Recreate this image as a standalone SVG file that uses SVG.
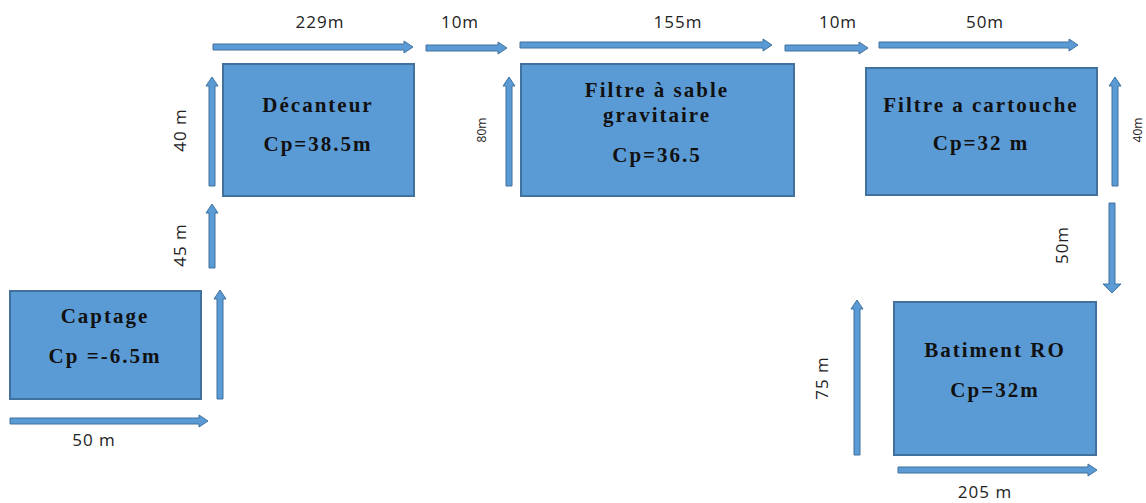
<svg xmlns="http://www.w3.org/2000/svg" width="1146" height="503" viewBox="0 0 1146 503">
<style>
.box{fill:#5B9BD5;stroke:#41719C;stroke-width:2}
.arr{fill:#5B9BD5;stroke:#41719C;stroke-width:1}
.t{font-family:"Liberation Serif","Times New Roman",serif;font-weight:bold;font-size:21px;letter-spacing:2px;fill:#111;text-anchor:middle}
.l{font-family:"Open Sans","Liberation Sans",sans-serif;font-size:17px;letter-spacing:1px;fill:#222;text-anchor:middle}
.s{font-family:"Open Sans","Liberation Sans",sans-serif;font-size:12px;fill:#222;text-anchor:middle}
</style>
<rect width="1146" height="503" fill="#fff"/>
<g id="captage">
<rect class="box" x="10" y="291" width="191" height="108"/>
<text class="t" x="105" y="323">Captage</text>
<text class="t" x="105" y="363">Cp =-6.5m</text>
</g>
<g id="decanteur">
<rect class="box" x="223" y="64" width="191" height="132"/>
<text class="t" x="318" y="112">Décanteur</text>
<text class="t" x="318" y="151">Cp=38.5m</text>
</g>
<g id="filtre-sable">
<rect class="box" x="521" y="64" width="273" height="132"/>
<text class="t" x="657" y="97">Filtre à sable</text>
<text class="t" x="657" y="122">gravitaire</text>
<text class="t" x="657" y="162">Cp=36.5</text>
</g>
<g id="filtre-cartouche">
<rect class="box" x="866" y="68" width="231" height="127"/>
<text class="t" x="981" y="112">Filtre a cartouche</text>
<text class="t" x="981" y="150">Cp=32 m</text>
</g>
<g id="batiment-ro">
<rect class="box" x="894" y="302" width="202" height="153"/>
<text class="t" x="995" y="357">Batiment RO</text>
<text class="t" x="995" y="397">Cp=32m</text>
</g>
<g id="connectors">
<polygon class="arr" points="10,418 199,418 199,415 208,421 199,427 199,424 10,424"/>
<polygon class="arr" points="217,399 217,299 214,299 220,290 226,299 223,299 223,399"/>
<polygon class="arr" points="209,268 209,213 206,213 212,204 218,213 215,213 215,268"/>
<polygon class="arr" points="209,186 209,86 206,86 212,77 218,86 215,86 215,186"/>
<polygon class="arr" points="213,44 404,44 404,41 413,47 404,53 404,50 213,50"/>
<polygon class="arr" points="426,45 498,45 498,42 507,48 498,54 498,51 426,51"/>
<polygon class="arr" points="520,42 763,42 763,39 772,45 763,51 763,48 520,48"/>
<polygon class="arr" points="785,45 859,45 859,42 868,48 859,54 859,51 785,51"/>
<polygon class="arr" points="879,42 1069,42 1069,39 1078,45 1069,51 1069,48 879,48"/>
<polygon class="arr" points="506,186 506,86 503,86 509,77 515,86 512,86 512,186"/>
<polygon class="arr" points="1112,186 1112,86 1109,86 1115,77 1121,86 1118,86 1118,186"/>
<polygon class="arr" points="1109,203 1115,203 1115,284 1121,284 1112,293 1103,284 1109,284"/>
<polygon class="arr" points="854,455 854,309 851,309 857,300 863,309 860,309 860,455"/>
<polygon class="arr" points="898,467 1088,467 1088,464 1097,470 1088,476 1088,473 898,473"/>
</g>
<g id="labels">
<text class="l" x="94" y="446">50 m</text>
<text class="l" x="320" y="28">229m</text>
<text class="l" x="460" y="28">10m</text>
<text class="l" x="678" y="28">155m</text>
<text class="l" x="838" y="28">10m</text>
<text class="l" x="985" y="28">50m</text>
<text class="l" x="985" y="498">205 m</text>
<text class="l" transform="translate(186,130) rotate(-90)">40 m</text>
<text class="l" transform="translate(186,245) rotate(-90)">45 m</text>
<text class="s" transform="translate(486,130) rotate(-90)">80m</text>
<text class="s" transform="translate(1142,130) rotate(-90)">40m</text>
<text class="l" transform="translate(1068,245) rotate(-90)">50m</text>
<text class="l" transform="translate(828,378) rotate(-90)">75 m</text>
</g>
</svg>
